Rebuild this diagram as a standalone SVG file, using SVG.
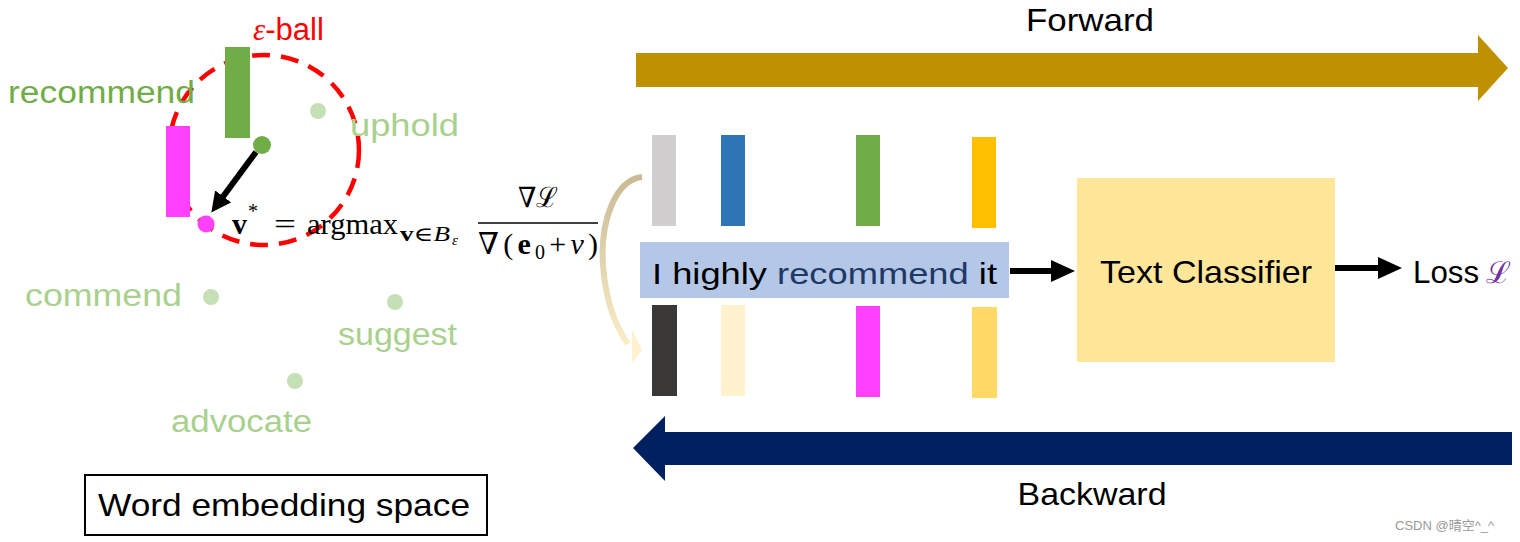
<svg xmlns="http://www.w3.org/2000/svg" width="1520" height="542" viewBox="0 0 1520 542">
<style>
.t{font-family:"Liberation Sans",Arial,sans-serif;}
.m{font-family:"DejaVu Serif","Liberation Serif",serif;fill:#000;}
.r{font-family:"Liberation Serif","DejaVu Serif",serif;fill:#000;}
.syn{fill:#A9D18E;font-size:31px;}
.dot{fill:#C5E0B4;}
.blk{stroke:#000;stroke-width:6;fill:none;}
</style>
<defs>
<marker id="ah" markerUnits="userSpaceOnUse" markerWidth="24" markerHeight="22" refX="2" refY="11" orient="auto">
<polygon points="0,0 24,11 0,22" fill="#000"/>
</marker>
<marker id="ah2" markerUnits="userSpaceOnUse" markerWidth="20" markerHeight="20" refX="2" refY="10" orient="auto">
<polygon points="0,0 20,10 0,20" fill="#000"/>
</marker>
<linearGradient id="cg" gradientUnits="userSpaceOnUse" x1="0" y1="173" x2="0" y2="363">
<stop offset="0" stop-color="#C9B995"/>
<stop offset="1" stop-color="#FFF2CC"/>
</linearGradient>
</defs>

<g id="forward">
<polygon points="636,53 1478,53 1478,35 1508,68 1478,101 1478,87 636,87" fill="#BF9000"/>
<text class="t" x="1090" y="31" font-size="32" text-anchor="middle" textLength="128" lengthAdjust="spacingAndGlyphs">Forward</text>
</g>
<g id="backward">
<polygon points="1512,432 665,432 665,416 633,448 665,481 665,465 1512,465" fill="#002060"/>
<text class="t" x="1092" y="505" font-size="32" text-anchor="middle" textLength="149" lengthAdjust="spacingAndGlyphs">Backward</text>
</g>

<g id="embeddings-top">
<rect x="652" y="135" width="24" height="91" fill="#D0CECE"/>
<rect x="721" y="135" width="24" height="91" fill="#2E75B6"/>
<rect x="856" y="135" width="24" height="91" fill="#70AD47"/>
<rect x="972" y="137" width="24" height="91" fill="#FFC000"/>
</g>
<g id="embeddings-bottom">
<rect x="652" y="305" width="25" height="91" fill="#3B3838"/>
<rect x="721" y="305" width="24" height="91" fill="#FFF2CC"/>
<rect x="856" y="306" width="24" height="91" fill="#FF40FF"/>
<rect x="972" y="307" width="25" height="91" fill="#FFD966"/>
</g>

<g id="sentence">
<rect x="640" y="242" width="369" height="56" fill="#B4C7E7"/>
<text class="t" x="652" y="284" font-size="30" textLength="345" lengthAdjust="spacingAndGlyphs">I highly <tspan fill="#203864">recommend</tspan> it</text>
</g>

<g id="classifier">
<rect x="1077" y="178" width="258" height="184" fill="#FFE699"/>
<text class="t" x="1206" y="283" font-size="32" text-anchor="middle" textLength="212" lengthAdjust="spacingAndGlyphs">Text Classifier</text>
</g>

<g id="loss">
<text class="t" x="1413" y="283" font-size="32" textLength="66" lengthAdjust="spacingAndGlyphs">Loss</text>
<text class="m" x="1486" y="283" font-size="30" style="fill:#7030A0">ℒ</text>
</g>

<g id="connectors">
<line class="blk" x1="1010" y1="271" x2="1053" y2="271" marker-end="url(#ah)"/>
<line class="blk" x1="1335" y1="268" x2="1380" y2="268" marker-end="url(#ah)"/>
<path d="M642,177 C615,180 600,222 603,265 C606,305 618,330 628,344" fill="none" stroke="url(#cg)" stroke-width="6"/>
<polygon points="632,329 642,350 632,363" fill="#FFF2CC"/>
<line x1="256" y1="152" x2="222" y2="198" stroke="#000" stroke-width="6" marker-end="url(#ah2)"/>
</g>

<g id="eps-ball">
<circle cx="264" cy="150" r="95" fill="none" stroke="#FF0000" stroke-width="4.5" stroke-dasharray="18,11"/>
<text class="t" x="253" y="40" font-size="31" fill="#FF0000"><tspan class="r" font-style="italic" style="fill:#FF0000">ε</tspan>-ball</text>
</g>

<g id="word-recommend">
<rect x="225" y="47" width="25" height="91" fill="#70AD47"/>
<rect x="166" y="126" width="24" height="91" fill="#FF40FF"/>
<circle cx="262" cy="145" r="9" fill="#70AD47"/>
<circle cx="206" cy="224" r="8.5" fill="#FF40FF"/>
<text class="t" x="8" y="103" font-size="31" fill="#70AD47" textLength="187" lengthAdjust="spacingAndGlyphs">recommend</text>
</g>

<g id="word-uphold"><circle class="dot" cx="318" cy="111" r="8"/><text class="t syn" x="350" y="136" textLength="109" lengthAdjust="spacingAndGlyphs">uphold</text></g>
<g id="word-commend"><circle class="dot" cx="211" cy="297" r="8"/><text class="t syn" x="25" y="306" textLength="157" lengthAdjust="spacingAndGlyphs">commend</text></g>
<g id="word-suggest"><circle class="dot" cx="395" cy="302" r="8"/><text class="t syn" x="338" y="345" textLength="119" lengthAdjust="spacingAndGlyphs">suggest</text></g>
<g id="word-advocate"><circle class="dot" cx="295" cy="381" r="8"/><text class="t syn" x="171" y="432" textLength="141" lengthAdjust="spacingAndGlyphs">advocate</text></g>

<g id="formula">
<text class="r" x="232" y="234" font-size="30" font-weight="bold">v</text>
<text class="r" x="248" y="218" font-size="20">*</text>
<text class="r" x="274" y="234" font-size="30" textLength="22" lengthAdjust="spacingAndGlyphs">=</text>
<text class="r" x="307" y="234" font-size="30" textLength="91" lengthAdjust="spacingAndGlyphs">argmax</text>
<text class="r" x="400" y="241" font-size="20" textLength="50" lengthAdjust="spacingAndGlyphs"><tspan font-weight="bold">v</tspan>∈<tspan font-style="italic">B</tspan></text>
<text class="r" x="452" y="245" font-size="15" font-style="italic">ε</text>
<text class="m" x="518" y="207" font-size="28" textLength="40" lengthAdjust="spacingAndGlyphs">∇ℒ</text>
<line x1="478" y1="223" x2="598" y2="223" stroke="#000" stroke-width="1.5"/>
<text class="r" x="478" y="254" font-size="30" textLength="120" lengthAdjust="spacing">∇(<tspan font-weight="bold">e</tspan><tspan font-size="20" dy="5">0</tspan><tspan dy="-5">+</tspan><tspan font-style="italic">v</tspan>)</text>
</g>

<g id="legend">
<rect x="85" y="475" width="402" height="60" fill="#fff" stroke="#000" stroke-width="2"/>
<text class="t" x="98" y="516" font-size="32" textLength="372" lengthAdjust="spacingAndGlyphs">Word embedding space</text>
</g>

<text x="1395" y="530" font-size="13" fill="#999" font-family="'Liberation Sans','Noto Sans CJK SC',sans-serif">CSDN @晴空^_^</text>
</svg>
